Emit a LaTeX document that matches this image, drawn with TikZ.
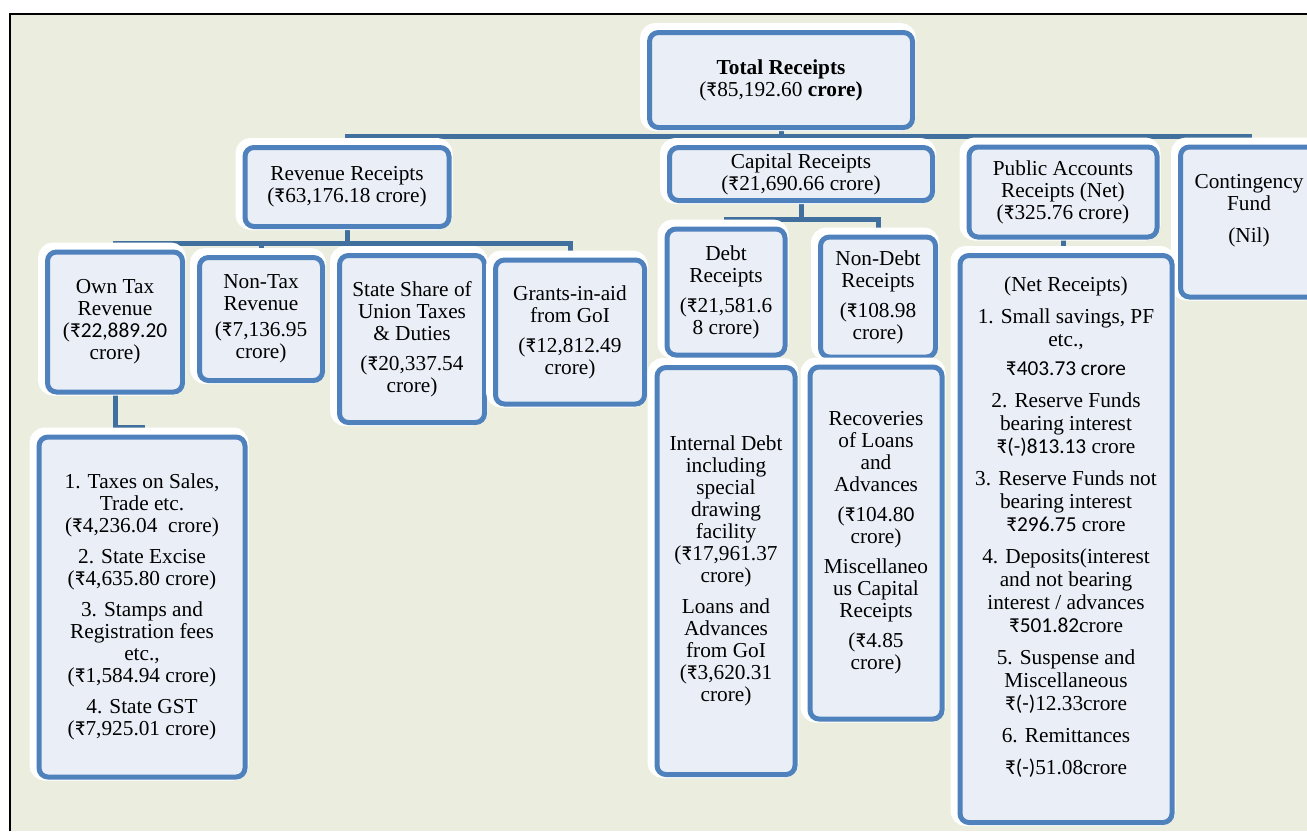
\documentclass[tikz,border=0pt]{standalone}
\usepackage{fontspec}
\setmainfont{Liberation Serif}
\newfontfamily\calnum{Carlito}
\newcommand\rs{{\calnum ₹}}
\usetikzlibrary{backgrounds}
\definecolor{boxblue}{RGB}{79,129,189}
\definecolor{busblue}{RGB}{65,111,158}
\definecolor{boxfill}{RGB}{234,239,247}
\definecolor{pagefill}{RGB}{235,238,223}

\begin{document}
\begin{tikzpicture}[x=1pt, y=-1pt,
    boxnode/.style={rectangle, rounded corners=9pt, draw=boxblue, line width=5pt, fill=boxfill,
        align=center, inner sep=2pt, font=\fontsize{21.3}{22}\selectfont,
        preaction={draw=white, line width=13pt, transform canvas={shift={(-3pt,3pt)}}}},
    busline/.style={draw=busblue, line width=5pt},
]
\useasboundingbox (0,0) rectangle (1307,831);

% top level
\node[boxnode, minimum width=263pt, minimum height=95pt](total) at (781,80)
    {\textbf{Total Receipts}\\(\rs85,192.60 \textbf{crore)}};

% second level
\node[boxnode, minimum width=204pt, minimum height=79pt](rev) at (347,187)
    {Revenue Receipts\\(\rs63,176.18 crore)};
\node[boxnode, minimum width=263pt, minimum height=53pt](cap) at (801,174)
    {Capital Receipts\\(\rs21,690.66 crore)};
\node[boxnode, minimum width=188pt, minimum height=90pt](pub) at (1063,192)
    {Public Accounts\\Receipts (Net)\\(\rs325.76 crore)};
\node[boxnode, minimum width=137pt, minimum height=150pt](cont) at (1249,222)
    {Contingency\\Fund\\[10pt](Nil)\\[6pt]};

% revenue receipts
\node[boxnode, minimum width=135pt, minimum height=140pt](own) at (115,322)
    {Own Tax\\Revenue\\(\rs{\calnum 22,889.20}\\crore)};
\node[boxnode, minimum width=123pt, minimum height=123pt](nontax) at (261,319)
    {Non-Tax\\Revenue\\[4pt](\rs7,136.95\\crore)};
\node[boxnode, minimum width=145pt, minimum height=167pt](share) at (412,339)
    {State Share of\\Union Taxes\\\& Duties\\[8pt](\rs20,337.54\\crore)};
\node[boxnode, minimum width=149pt, minimum height=144pt](grants) at (570,332)
    {Grants-in-aid\\from GoI\\[8pt](\rs12,812.49\\crore)};
\node[boxnode, minimum width=206pt, minimum height=340pt](list) at (142,607)
    {1. Taxes on Sales,\\Trade etc.\\(\rs4,236.04~ crore)\\[9pt]
     2. State Excise\\(\rs4,635.80 crore)\\[9pt]
     3. Stamps and\\Registration fees\\etc.,\\(\rs1,584.94 crore)\\[9pt]
     4. State GST\\(\rs7,925.01 crore)};

% capital receipts
\node[boxnode, minimum width=118pt, minimum height=126pt](debt) at (726,292)
    {Debt\\Receipts\\[8pt](\rs21,581.6\\8 crore)};
\node[boxnode, minimum width=115pt, minimum height=120pt](nondebt) at (878,297)
    {Non-Debt\\Receipts\\[8pt](\rs108.98\\crore)};
\node[boxnode, minimum width=138pt, minimum height=407pt](internal) at (726,571)
    {Internal Debt\\including\\special\\drawing\\facility\\(\rs17,961.37\\crore)\\[9pt]
     Loans and\\Advances\\from GoI\\(\rs3,620.31\\crore)};
\node[boxnode, minimum width=132pt, minimum height=352pt](recov) at (876,543)
    {Recoveries\\of Loans\\and\\Advances\\[8pt](\rs104.8{\calnum 0}\\crore)\\[8pt]
     Miscellaneo\\us Capital\\Receipts\\[8pt](\rs4.85\\crore)};

% public accounts
\node[boxnode, minimum width=212pt, minimum height=567pt, font=\fontsize{21.3}{23}\selectfont](net) at (1066,539)
    {(Net Receipts)\\[9pt]1. Small savings, PF\\etc.,\\[6pt]{\calnum ₹403.73 crore}\\[9pt]
     2. Reserve Funds\\bearing interest\\{\calnum ₹(-)813.13} crore\\[9pt]
     3. Reserve Funds not\\bearing interest\\{\calnum ₹296.75} crore\\[9pt]
     4. Deposits(interest\\and not bearing\\interest / advances\\{\calnum ₹501.82}crore\\[9pt]
     5. Suspense and\\Miscellaneous\\{\calnum ₹(-)}12.33crore\\[9pt]
     6. Remittances\\[9pt]{\calnum ₹(-)}51.08crore\\[3pt]};

\begin{scope}[on background layer]
\fill[pagefill] (10,14) rectangle (1307,831);
\draw[busline] (total.south) -- ++(0,6) -| (rev.north);
\draw[busline] (total.south) -- ++(0,6) -| (cap.north);
\draw[busline] (total.south) -- ++(0,6) -| (pub.north);
\draw[busline] (total.south) -- ++(0,6) -| (cont.north);
\draw[busline] (rev.south) -- ++(0,14) -| (own.north);
\draw[busline] (rev.south) -- ++(0,14) -| (nontax.north);
\draw[busline] (rev.south) -- ++(0,14) -| (share.north);
\draw[busline] (rev.south) -- ++(0,14) -| (grants.north);
\draw[busline] (own.south) -- ++(0,33) -| (list.north);
\draw[busline] (cap.south) -- ++(0,16) -| (debt.north);
\draw[busline] (cap.south) -- ++(0,16) -| (nondebt.north);
\draw[busline] (pub.south) -- (pub.south |- net.north);
\end{scope}

\draw[line width=1.5pt] (10,831) -- (10,14) -- (1307,14);
\end{tikzpicture}
\end{document}
